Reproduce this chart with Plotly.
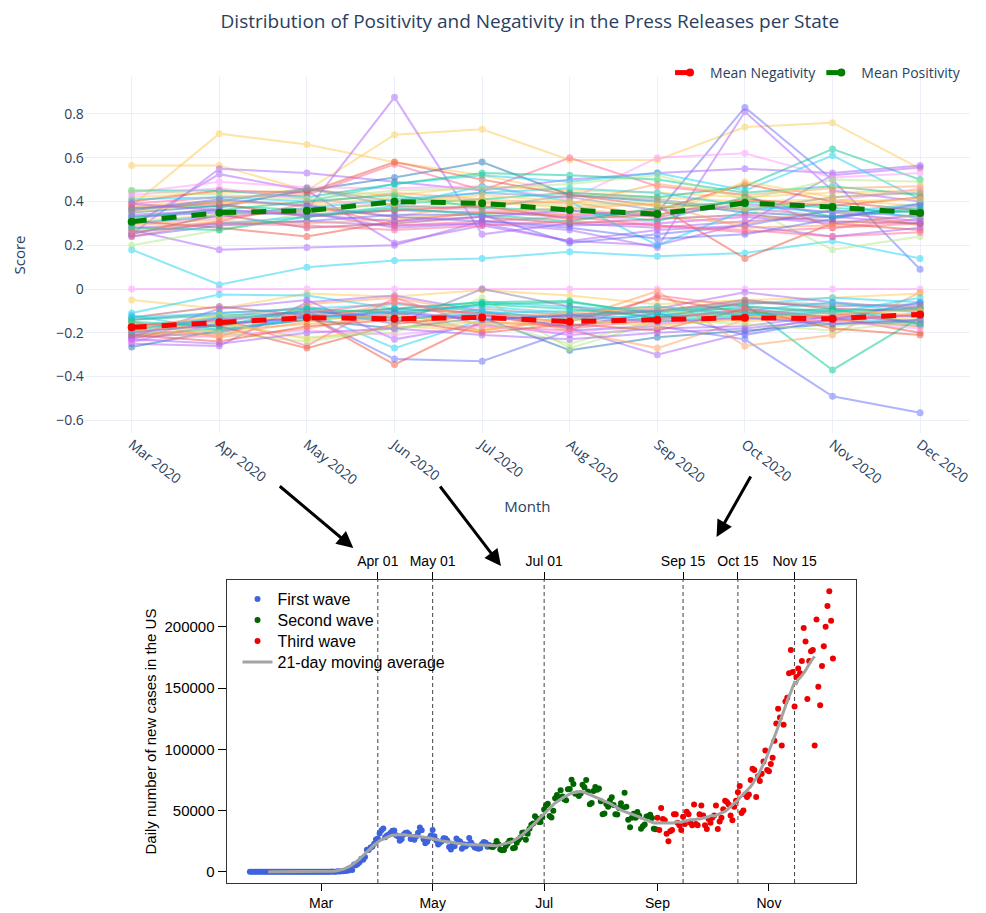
import plotly.graph_objects as go
import pandas as pd

# the page body adds an 8px margin, so the figure is drawn 8px in from the corner
PAGE_OFFSET = 8
W, H = 986 - PAGE_OFFSET, 913 - PAGE_OFFSET

# ---------------- top chart data ----------------
MONTHS = ["Mar 2020", "Apr 2020", "May 2020", "Jun 2020", "Jul 2020",
          "Aug 2020", "Sep 2020", "Oct 2020", "Nov 2020", "Dec 2020"]

MEAN_POSITIVITY = [0.308, 0.349, 0.358, 0.399, 0.392, 0.361, 0.343, 0.393, 0.375, 0.347]
MEAN_NEGATIVITY = [-0.175, -0.152, -0.131, -0.136, -0.130, -0.149, -0.142, -0.131, -0.136, -0.116]

STATE_POSITIVITY = [
    [0.565, 0.565, 0.45, 0.43, 0.47, 0.45, 0.44, 0.42, 0.44, 0.45],
    [0.38, 0.71, 0.66, 0.58, 0.52, 0.44, 0.42, 0.40, 0.41, 0.38],
    [0.42, 0.44, 0.45, 0.705, 0.73, 0.59, 0.59, 0.74, 0.76, 0.55],
    [0.30, 0.33, 0.36, 0.876, 0.25, 0.30, 0.28, 0.31, 0.33, 0.30],
    [0.33, 0.35, 0.34, 0.36, 0.35, 0.33, 0.35, 0.83, 0.50, 0.09],
    [0.28, 0.30, 0.31, 0.29, 0.30, 0.27, 0.19, 0.81, 0.45, 0.40],
    [0.37, 0.38, 0.36, 0.39, 0.41, 0.44, 0.42, 0.47, 0.64, 0.50],
    [0.18, 0.02, 0.10, 0.13, 0.14, 0.17, 0.15, 0.165, 0.22, 0.14],
    [0.27, 0.18, 0.19, 0.20, 0.31, 0.29, 0.30, 0.33, 0.30, 0.34],
    [0.25, 0.55, 0.53, 0.49, 0.45, 0.50, 0.53, 0.55, 0.53, 0.565],
    [0.29, 0.525, 0.45, 0.21, 0.29, 0.22, 0.20, 0.30, 0.52, 0.555],
    [0.35, 0.38, 0.45, 0.51, 0.58, 0.43, 0.40, 0.35, 0.33, 0.36],
    [0.44, 0.49, 0.465, 0.46, 0.47, 0.41, 0.60, 0.62, 0.51, 0.53],
    [0.39, 0.42, 0.43, 0.57, 0.45, 0.60, 0.47, 0.43, 0.28, 0.30],
    [0.40, 0.45, 0.44, 0.58, 0.50, 0.43, 0.38, 0.14, 0.30, 0.27],
    [0.20, 0.27, 0.35, 0.37, 0.40, 0.38, 0.40, 0.38, 0.18, 0.24],
    [0.29, 0.32, 0.37, 0.33, 0.39, 0.40, 0.33, 0.30, 0.36, 0.29],
    [0.41, 0.42, 0.40, 0.48, 0.52, 0.49, 0.53, 0.45, 0.61, 0.41],
    [0.45, 0.45, 0.42, 0.48, 0.53, 0.52, 0.50, 0.44, 0.47, 0.43],
    [0.31, 0.28, 0.24, 0.31, 0.35, 0.34, 0.36, 0.48, 0.40, 0.36],
    [0.25, 0.34, 0.28, 0.30, 0.33, 0.30, 0.32, 0.34, 0.31, 0.30],
    [0.32, 0.37, 0.46, 0.40, 0.44, 0.42, 0.36, 0.37, 0.33, 0.38],
    [0.35, 0.40, 0.38, 0.42, 0.40, 0.37, 0.33, 0.49, 0.42, 0.45],
    [0.24, 0.29, 0.31, 0.34, 0.34, 0.21, 0.25, 0.29, 0.36, 0.33],
    [0.43, 0.46, 0.41, 0.38, 0.36, 0.35, 0.30, 0.33, 0.40, 0.46],
    [0.26, 0.30, 0.33, 0.38, 0.47, 0.40, 0.20, 0.36, 0.39, 0.32],
    [0.38, 0.40, 0.39, 0.44, 0.41, 0.39, 0.48, 0.43, 0.46, 0.47],
    [0.33, 0.36, 0.40, 0.43, 0.37, 0.36, 0.31, 0.42, 0.33, 0.37],
    [0.34, 0.36, 0.35, 0.28, 0.30, 0.22, 0.27, 0.29, 0.24, 0.28],
    [0.37, 0.39, 0.33, 0.36, 0.38, 0.32, 0.34, 0.41, 0.38, 0.42],
    [0.45, 0.43, 0.41, 0.45, 0.46, 0.48, 0.52, 0.41, 0.50, 0.49],
    [0.24, 0.31, 0.39, 0.29, 0.31, 0.33, 0.29, 0.26, 0.28, 0.32],
    [0.27, 0.31, 0.30, 0.32, 0.35, 0.37, 0.39, 0.28, 0.29, 0.34],
    [0.30, 0.34, 0.37, 0.41, 0.44, 0.46, 0.44, 0.38, 0.35, 0.39],
    [0.36, 0.41, 0.38, 0.33, 0.31, 0.28, 0.23, 0.25, 0.32, 0.39],
    [0.28, 0.27, 0.33, 0.37, 0.34, 0.31, 0.37, 0.40, 0.37, 0.35],
    [0.36, 0.40, 0.46, 0.38, 0.37, 0.43, 0.41, 0.36, 0.42, 0.44],
    [0.26, 0.30, 0.29, 0.27, 0.29, 0.31, 0.29, 0.27, 0.24, 0.26],
    [0.31, 0.34, 0.36, 0.39, 0.43, 0.40, 0.38, 0.37, 0.40, 0.41],
    [0.39, 0.36, 0.34, 0.31, 0.33, 0.36, 0.33, 0.39, 0.35, 0.31],
]
POSITIVITY_COLORS = [
    "#FECB52", "#FECB52", "#FECB52", "#AB63FA", "#636EFA", "#AB63FA", "#00CC96", "#19D3F3",
    "#AB63FA", "#AB63FA", "#AB63FA", "#1F77B4", "#FF97FF", "#FF6692", "#EF553B", "#B6E880",
    "#FFA15A", "#19D3F3", "#00CC96", "#EF553B", "#B0506E", "#8C86C8", "#FECB52", "#636EFA",
    "#FF97FF", "#19D3F3", "#FFA15A", "#00CC96", "#AB63FA", "#EF553B", "#B6E880", "#FF6692",
    "#FFA15A", "#19D3F3", "#636EFA", "#00CC96", "#999999", "#FF6692", "#FECB52", "#AB63FA",
]

STATE_NEGATIVITY = [
    [0.0, 0.0, 0.0, 0.0, 0.0, 0.0, 0.0, 0.0, 0.0, 0.0],
    [-0.05, -0.09, -0.02, -0.035, -0.005, -0.03, -0.07, -0.05, -0.04, -0.02],
    [-0.11, -0.025, -0.03, -0.09, -0.06, -0.08, -0.10, -0.07, -0.04, -0.06],
    [-0.22, -0.20, -0.12, -0.32, -0.33, -0.19, -0.17, -0.23, -0.49, -0.565],
    [-0.19, -0.17, -0.12, -0.345, -0.15, -0.17, -0.13, -0.10, -0.14, -0.17],
    [-0.17, -0.15, -0.10, -0.27, -0.14, -0.12, -0.10, -0.09, -0.13, -0.16],
    [-0.21, -0.18, -0.14, -0.12, -0.07, -0.06, -0.11, -0.07, -0.37, -0.13],
    [-0.25, -0.26, -0.06, -0.03, -0.10, -0.18, -0.30, -0.20, -0.12, -0.08],
    [-0.265, -0.19, -0.14, -0.18, -0.13, -0.28, -0.22, -0.19, -0.16, -0.15],
    [-0.14, -0.11, -0.09, -0.16, 0.0, -0.08, -0.13, -0.06, -0.08, -0.07],
    [-0.20, -0.22, -0.07, -0.04, -0.11, -0.19, -0.27, -0.14, -0.10, -0.12],
    [-0.24, -0.16, -0.13, -0.10, -0.14, -0.12, -0.09, -0.015, -0.06, -0.09],
    [-0.21, -0.19, -0.16, -0.13, -0.19, -0.14, -0.01, -0.26, -0.21, -0.015],
    [-0.13, -0.08, -0.12, -0.09, -0.11, -0.13, -0.10, -0.05, -0.09, -0.10],
    [-0.18, -0.16, -0.22, -0.20, -0.04, -0.27, -0.15, -0.12, -0.17, -0.14],
    [-0.23, -0.13, -0.26, -0.04, -0.17, -0.19, -0.03, -0.08, -0.11, -0.16],
    [-0.15, -0.22, -0.18, -0.11, -0.19, -0.13, -0.16, -0.14, -0.12, -0.09],
    [-0.16, -0.17, -0.27, -0.16, -0.12, -0.15, -0.04, -0.11, -0.13, -0.20],
    [-0.12, -0.19, -0.13, -0.10, -0.08, -0.11, -0.14, -0.12, -0.10, -0.13],
    [-0.14, -0.12, -0.11, -0.09, -0.06, -0.055, -0.12, -0.08, -0.10, -0.09],
    [-0.22, -0.09, -0.05, -0.23, -0.16, -0.21, -0.18, -0.17, -0.12, -0.15],
    [-0.20, -0.15, -0.23, -0.17, -0.19, -0.10, -0.09, -0.15, -0.12, -0.14],
    [-0.18, -0.14, -0.10, -0.13, -0.12, -0.17, -0.11, -0.21, -0.14, -0.06],
    [-0.24, -0.21, -0.19, -0.21, -0.17, -0.20, -0.16, -0.13, -0.15, -0.18],
    [-0.17, -0.13, -0.08, -0.15, -0.09, -0.12, -0.10, -0.06, -0.07, -0.08],
    [-0.16, -0.20, -0.24, -0.18, -0.15, -0.25, -0.14, -0.16, -0.19, -0.15],
    [-0.13, -0.11, -0.09, -0.07, -0.10, -0.14, -0.12, -0.10, -0.06, -0.11],
    [-0.19, -0.21, -0.15, -0.06, -0.13, -0.11, -0.08, -0.12, -0.15, -0.11],
    [-0.21, -0.24, -0.17, -0.14, -0.20, -0.16, -0.19, -0.09, -0.18, -0.21],
    [-0.15, -0.17, -0.09, -0.11, -0.07, -0.09, -0.13, -0.11, -0.09, -0.16],
    [-0.23, -0.25, -0.20, -0.18, -0.21, -0.23, -0.20, -0.18, -0.14, -0.12],
    [-0.18, -0.12, -0.14, -0.12, -0.16, -0.14, -0.17, -0.13, -0.11, -0.10],
    [-0.17, -0.14, -0.11, -0.06, -0.12, -0.18, -0.14, -0.09, -0.13, -0.12],
    [-0.20, -0.16, -0.13, -0.11, -0.14, -0.12, -0.15, -0.13, -0.16, -0.14],
    [-0.19, -0.13, -0.12, -0.14, -0.11, -0.10, -0.08, -0.12, -0.11, -0.04],
]
NEGATIVITY_COLORS = [
    "#FF97FF", "#FECB52", "#19D3F3", "#636EFA", "#EF553B", "#19D3F3", "#00CC96", "#AB63FA",
    "#1F77B4", "#8C7AB8", "#FFA15A", "#AB63FA", "#FFA15A", "#B0506E", "#B6E880", "#FF6692",
    "#FFA15A", "#EF553B", "#19D3F3", "#00CC96", "#AB63FA", "#FECB52", "#636EFA", "#FF97FF",
    "#999999", "#B6E880", "#19D3F3", "#FFA15A", "#EF553B", "#00CC96", "#AB63FA", "#FECB52",
    "#FF6692", "#636EFA", "#19D3F3",
]

# ---------------- bottom chart data (daily new US cases) ----------------
FIRST_DAY = "2020-01-22"
DAILY_JAN = [1, 0, 1, 0, 3, 0, 0, 0, 0, 2]
DAILY_FEB = [1, 0, 3, 0, 0, 0, 0, 0, 0, 1, 1, 0, 1, 0, 0, 0, 0, 0, 0, 0, 2, 0, 0, 0, 0, 0, 3, 0, 8]
DAILY_MAR = [8, 23, 20, 31, 68, 45, 140, 116, 65, 376, 322, 382, 516, 548, 772, 1133, 1789, 1362,
             5894, 5423, 6389, 7787, 10571, 9893, 12042, 18058, 17821, 19821, 20408, 22922, 26341]
DAILY_APR = [27200, 31390, 33824, 35264, 28218, 29595, 30503, 31917, 33536, 33752, 29861, 28917,
             25306, 26641, 30148, 31667, 31963, 30833, 26851, 28123, 26093, 28786, 31900, 36151,
             33855, 26551, 23187, 24541, 27327, 29515]
DAILY_MAY = [34037, 29078, 25501, 22335, 23736, 24905, 27366, 27136, 25496, 20236, 18097, 22210,
             20811, 27247, 25396, 24710, 18831, 22493, 20598, 22141, 27664, 23964, 21807, 19874,
             19325, 18814, 19128, 22714, 24266, 23714, 20390]
DAILY_JUN = [21795, 20369, 20152, 21610, 25163, 22566, 18116, 17538, 17786, 21050, 23082, 25351,
             25476, 19138, 19541, 23650, 26190, 28003, 31934, 32082, 26110, 30987, 35119, 38386,
             39390, 45241, 43392, 40651, 40586, 44811]
DAILY_JUL = [50846, 54013, 55442, 45599, 44318, 49722, 60021, 62751, 59836, 66627, 61352, 59150,
             58345, 67417, 67632, 75193, 71558, 63698, 63872, 61796, 63930, 71027, 69061, 74987,
             65497, 55187, 56130, 65935, 69150, 67023, 68032]
DAILY_AUG = [57540, 46935, 47623, 55318, 53158, 58252, 60765, 54567, 46935, 46808, 51956, 55910,
             51999, 64601, 53001, 42487, 36383, 44091, 47408, 44023, 48693, 45720, 35112, 37084,
             38588, 45040, 45306, 46511, 43995, 35155, 34806]
DAILY_SEP = [44000, 34000, 52000, 43000, 42000, 31000, 25000, 33000, 34000, 47000, 47000, 40000,
             38000, 34000, 45000, 39000, 49000, 47000, 40000, 38000, 55000, 39000, 38000, 47000,
             54000, 46000, 38000, 35000, 43000, 40000]
DAILY_OCT = [44000, 46000, 54000, 35000, 41000, 44000, 51000, 58000, 57000, 55000, 46000, 42000,
             53000, 58000, 65000, 70000, 48000, 50000, 63000, 61000, 63000, 75000, 84000, 83000,
             61000, 78000, 74000, 80000, 90000, 99000, 83000]
DAILY_NOV = [82000, 88000, 93000, 107000, 121000, 133000, 126000, 103000, 120000, 139000, 142000,
             162000, 181000, 163000, 135000, 159000, 166000, 162000, 172000, 199000, 188000,
             141000, 172000, 180000, 181000, 103000, 206000, 151000, 136000, 168000]
DAILY_DEC = [184000, 200000, 217000, 229000, 205000, 174000]

WAVE_NAMES = ["First wave", "Second wave", "Third wave"]
WAVE_STARTS = ["2020-01-22", "2020-06-02", "2020-09-01"]
WAVE_COLORS = ["#3D63DD", "#006400", "#EE0000"]
MA_NAME = "21-day moving average"
MA_WINDOW = 21

CUTOFF_DATES = ["2020-04-01", "2020-05-01", "2020-07-01", "2020-09-15", "2020-10-15", "2020-11-15"]
CUTOFF_LABELS = ["Apr 01", "May 01", "Jul 01", "Sep 15", "Oct 15", "Nov 15"]
BOTTOM_TICKS = ["2020-03-01", "2020-05-01", "2020-07-01", "2020-09-01", "2020-11-01"]
BOTTOM_TICK_LABELS = ["Mar", "May", "Jul", "Sep", "Nov"]
Y_TICKS = [0, 50000, 100000, 150000, 200000]


# ---------------- helpers: screen pixel -> paper fraction ----------------
def px_x(p):
    return (p - PAGE_OFFSET) / W


def px_y(p):
    return 1 - (p - PAGE_OFFSET) / H


fig = go.Figure()
xs = list(range(len(MONTHS)))

for vals, col in zip(STATE_POSITIVITY, POSITIVITY_COLORS):
    fig.add_trace(go.Scatter(x=xs, y=vals, mode="lines+markers", opacity=0.5,
                             line=dict(color=col, width=2), marker=dict(color=col, size=7),
                             showlegend=False, hoverinfo="skip"))
for vals, col in zip(STATE_NEGATIVITY, NEGATIVITY_COLORS):
    fig.add_trace(go.Scatter(x=xs, y=vals, mode="lines+markers", opacity=0.5,
                             line=dict(color=col, width=2), marker=dict(color=col, size=7),
                             showlegend=False, hoverinfo="skip"))

fig.add_trace(go.Scatter(x=xs, y=MEAN_NEGATIVITY, mode="lines+markers", name="Mean Negativity",
                         line=dict(color="red", width=5, dash="dash"),
                         marker=dict(color="red", size=8), legend="legend"))
fig.add_trace(go.Scatter(x=xs, y=MEAN_POSITIVITY, mode="lines+markers", name="Mean Positivity",
                         line=dict(color="green", width=5, dash="dash"),
                         marker=dict(color="green", size=8), legend="legend"))

# bottom chart
daily = (DAILY_JAN + DAILY_FEB + DAILY_MAR + DAILY_APR + DAILY_MAY + DAILY_JUN + DAILY_JUL
         + DAILY_AUG + DAILY_SEP + DAILY_OCT + DAILY_NOV + DAILY_DEC)
df = pd.DataFrame({"date": pd.date_range(FIRST_DAY, periods=len(daily), freq="D"),
                   "cases": daily})
df["ma"] = df["cases"].rolling(MA_WINDOW, center=True).mean()
starts = [pd.Timestamp(s) for s in WAVE_STARTS] + [pd.Timestamp("2100-01-01")]

# one small legend per entry so the rows sit at the reference spacing
LEGEND_ROWS_PX = [600, 621, 642, 663]
legend_ids = ["legend2", "legend3", "legend4", "legend5"]

for i, (name, col) in enumerate(zip(WAVE_NAMES, WAVE_COLORS)):
    sub = df[(df["date"] >= starts[i]) & (df["date"] < starts[i + 1])]
    fig.add_trace(go.Scatter(x=sub["date"], y=sub["cases"], mode="markers", name=name,
                             marker=dict(color=col, size=6), xaxis="x2", yaxis="y2",
                             legend=legend_ids[i], hoverinfo="skip"))
fig.add_trace(go.Scatter(x=df["date"], y=df["ma"], mode="lines", name=MA_NAME,
                         line=dict(color="#A3A3A3", width=3), xaxis="x2", yaxis="y2",
                         legend=legend_ids[3], hoverinfo="skip"))
fig.add_trace(go.Scatter(x=CUTOFF_DATES, y=[None] * len(CUTOFF_DATES), mode="markers",
                         xaxis="x3", yaxis="y2", showlegend=False, hoverinfo="skip"))

shapes = []
for d in CUTOFF_DATES:
    shapes.append(dict(type="line", xref="x2", yref="y2 domain", x0=d, x1=d, y0=0, y1=1,
                       line=dict(color="#444444", width=1, dash="4px,3px"), layer="below"))

# bottom x / y ranges with R-style 4% padding
span = df["date"].iloc[-1] - df["date"].iloc[0]
xr = [df["date"].iloc[0] - span * 0.04, df["date"].iloc[-1] + span * 0.04]
ymax = max(daily)
yr = [-0.04 * ymax, ymax * 1.04]

R_FONT = dict(family="Liberation Sans, Arial", size=14, color="black")
TOP_FONT = dict(family="Open Sans, Arial", color="#2a3f5f")

# arrows (tail -> head, screen pixels)
ARROWS = [((279, 485), (354, 548)), ((440, 485), (502, 566)), ((753, 475), (718, 537))]
annotations = []
for (tx, ty), (hx, hy) in ARROWS:
    annotations.append(dict(x=px_x(hx), y=px_y(hy), xref="paper", yref="paper", text="",
                            showarrow=True, ax=tx - hx, ay=ty - hy, arrowhead=2, arrowsize=1.1,
                            arrowwidth=3, arrowcolor="black", standoff=0))

legends = {}
for lid, row in zip(legend_ids, LEGEND_ROWS_PX):
    legends[lid] = dict(x=px_x(238), xanchor="left", y=px_y(row - 18), yanchor="top",
                        font=dict(family="Liberation Sans, Arial", size=16, color="black"),
                        bgcolor="rgba(0,0,0,0)")

fig.update_layout(
    width=W, height=H, autosize=False,
    margin=dict(l=0, r=0, t=0, b=0),
    template="plotly_white",
    paper_bgcolor="white", plot_bgcolor="white",
    title=dict(text="Distribution of Positivity and Negativity in the Press Releases per State",
               x=px_x(531), xanchor="center", xref="paper", y=px_y(21), yanchor="middle",
               font=dict(family="Open Sans, Arial", size=19, color="#2a3f5f")),
    xaxis=dict(domain=[px_x(85), px_x(972)], range=[-0.535, 9.57], tickvals=xs,
               ticktext=MONTHS, tickangle=38, tickfont=dict(size=14, **TOP_FONT),
               showgrid=True, gridcolor="#EBF0F8", zeroline=False, anchor="y",
               title=dict(text="Month", font=dict(size=15, **TOP_FONT), standoff=14)),
    yaxis=dict(domain=[px_y(433), px_y(77)], range=[-0.658, 0.969],
               tickvals=[-0.6, -0.4, -0.2, 0, 0.2, 0.4, 0.6, 0.8],
               tickfont=dict(size=14, **TOP_FONT), gridcolor="#EBF0F8", zeroline=False,
               anchor="x", title=dict(text="Score", font=dict(size=15, **TOP_FONT), standoff=26)),
    xaxis2=dict(domain=[px_x(227), px_x(858)], range=xr, type="date", anchor="y2",
                tickvals=BOTTOM_TICKS, ticktext=BOTTOM_TICK_LABELS, ticks="outside", ticklen=7,
                tickcolor="black", showline=True, linecolor="#333333", linewidth=1, mirror=True,
                showgrid=False, zeroline=False, tickfont=R_FONT),
    xaxis3=dict(overlaying="x2", side="top", anchor="y2", range=xr, type="date",
                tickvals=CUTOFF_DATES, ticktext=CUTOFF_LABELS, ticks="outside", ticklen=7,
                tickcolor="black", showline=False, showgrid=False, zeroline=False,
                tickfont=R_FONT),
    yaxis2=dict(domain=[px_y(883), px_y(580)], range=yr, anchor="x2", tickvals=Y_TICKS,
                tickformat="d", ticks="outside", ticklen=8, tickcolor="black", showline=True,
                linecolor="#333333", linewidth=1, mirror=True, showgrid=False, zeroline=False,
                tickfont=dict(family="Liberation Sans, Arial", size=15, color="black"),
                title=dict(text="Daily number of new cases in the US",
                           font=dict(family="Liberation Sans, Arial", size=15, color="black"),
                           standoff=4)),
    legend=dict(orientation="h", x=px_x(968), xanchor="right", y=px_y(57), yanchor="top",
                font=dict(size=14, **TOP_FONT), bgcolor="rgba(0,0,0,0)"),
    shapes=shapes,
    annotations=annotations,
    **legends,
)

fig.write_html("out.html")
